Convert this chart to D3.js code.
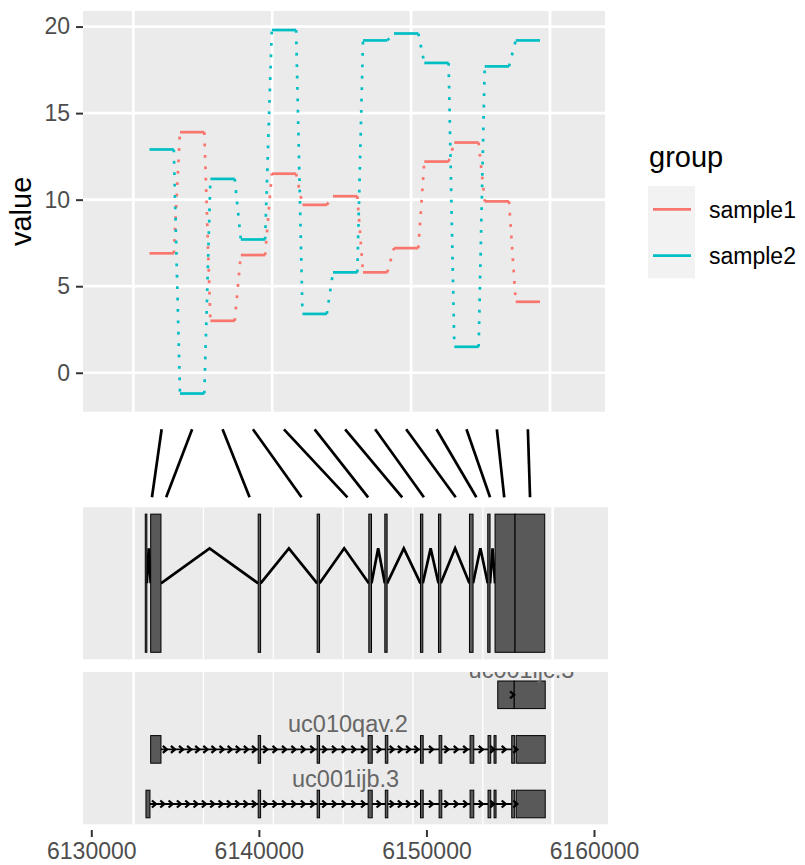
<!DOCTYPE html>
<html>
<head>
<meta charset="utf-8">
<script src="https://cdn.jsdelivr.net/npm/d3@7"></script>
<style>
  body { margin: 0; background: #fff; }
  svg { display: block; font-family: "Liberation Sans", Arial, sans-serif; }
</style>
</head>
<body>
<div id="chart"></div>
<script>
// ---- data ----
var groups = ["sample1", "sample2"];
var groupColors = ["#F8766D", "#00BFC4"];

// step bins in the top track (genomic position)
var binStart = [6135583, 6136681, 6137776, 6138870, 6139986, 6141091, 6142189, 6143269, 6144385, 6145476, 6146556, 6147650, 6148766];
var binEnd   = [6136458, 6137556, 6138651, 6139745, 6140861, 6141966, 6143064, 6144144, 6145260, 6146351, 6147431, 6148525, 6149641];
var sample1 = [6.9, 13.9, 3.0, 6.8, 11.5, 9.7, 10.2, 5.8, 7.2, 12.2, 13.3, 9.9, 4.1];
var sample2 = [12.9, -1.2, 11.2, 7.7, 19.8, 3.4, 5.8, 19.2, 19.6, 17.9, 1.5, 17.7, 19.2];
var yTicks = [0, 5, 10, 15, 20];
var gridMajor = [6135000, 6140000, 6145000, 6150000];
var gridMinor = [6137500, 6142500, 6147500];

// where each bin falls on the gene
var linkPos = [6133620, 6134467, 6139447, 6142548, 6145286, 6146521, 6148554, 6149849, 6151745, 6152980, 6153797, 6154644, 6156183];

// reduced gene model
var geneExonStart = [6133221, 6133543, 6139960, 6143479, 6146562, 6147516, 6149645, 6150719, 6152568, 6153659, 6154095, 6155287];
var geneExonEnd   = [6133316, 6134157, 6140103, 6143622, 6146723, 6147653, 6149783, 6150856, 6152782, 6153796, 6155287, 6157059];

// transcripts
var txNames = ["uc001ijc.3", "uc010qav.2", "uc001ijb.3"];
var txExonStart = [
  [6154256, 6155240],
  [6133543, 6139960, 6143479, 6146521, 6147546, 6149645, 6150755, 6152604, 6153677, 6154035, 6155090, 6155359],
  [6133262, 6139960, 6143479, 6146521, 6147546, 6149645, 6150755, 6152604, 6153677, 6154035, 6155090, 6155359]
];
var txExonEnd = [
  [6155240, 6157089],
  [6134157, 6140103, 6143622, 6146765, 6147695, 6149806, 6150916, 6152825, 6153838, 6154154, 6155269, 6157089],
  [6133501, 6140103, 6143622, 6146765, 6147695, 6149806, 6150916, 6152825, 6153838, 6154154, 6155269, 6157089]
];
var xTicks = [6130000, 6140000, 6150000, 6160000];

// ---- layout ----
var width = 805, height = 865;
var topPanel = {x0: 83, x1: 605, y0: 11, y1: 411.7};
var midPanel = {x0: 83, x1: 608, y0: 507.3, y1: 659.3};
var botPanel = {x0: 83, x1: 608, y0: 672, y1: 824.3};
var linkY = [429.3, 497.3];
var lw = 2.7;

var svg = d3.select("#chart").append("svg")
  .attr("width", width)
  .attr("height", height);

svg.append("rect").attr("width", width).attr("height", height).attr("fill", "#fff");

// scales
var topX = d3.scaleLinear().domain([6133190, 6151980]).range([topPanel.x0, topPanel.x1]);
var gridX = topX.copy().range([midPanel.x0, midPanel.x1]);
var topY = d3.scaleLinear().domain([-2.25, 20.9]).range([topPanel.y1, topPanel.y0]);
var geneX = d3.scaleLinear().domain([6130000, 6160000]).range([91.3, 594]);
var midY = d3.scaleLinear().domain([0, 1]).range([midPanel.y1, midPanel.y0]);
var rowY = d3.scaleLinear().domain([0, 2]).range([694.8, 804]);
var boxHalf = 13.8;

// ===== top panel =====
svg.append("rect")
  .attr("x", topPanel.x0).attr("y", topPanel.y0)
  .attr("width", topPanel.x1 - topPanel.x0).attr("height", topPanel.y1 - topPanel.y0)
  .attr("fill", "#EBEBEB");

var yAxis = d3.axisLeft(topY).tickValues(yTicks).tickSize(7).tickPadding(6);
var gy = svg.append("g")
  .attr("transform", "translate(" + topPanel.x0 + ",0)")
  .call(yAxis);
gy.select(".domain").remove();
gy.selectAll(".tick line").attr("stroke", "#333").attr("stroke-width", 2);
gy.selectAll(".tick text")
  .attr("fill", "#4D4D4D")
  .style("font-size", "23px")
  .style("font-family", "Liberation Sans, Arial, sans-serif");

// grid
svg.append("g").selectAll("line")
  .data(yTicks).enter().append("line")
  .attr("x1", topPanel.x0).attr("x2", topPanel.x1)
  .attr("y1", function(d) { return topY(d); })
  .attr("y2", function(d) { return topY(d); })
  .attr("stroke", "#fff").attr("stroke-width", lw);
svg.append("g").selectAll("line")
  .data(gridMajor).enter().append("line")
  .attr("x1", function(d) { return topX(d); })
  .attr("x2", function(d) { return topX(d); })
  .attr("y1", topPanel.y0).attr("y2", topPanel.y1)
  .attr("stroke", "#fff").attr("stroke-width", lw);

svg.append("text")
  .attr("transform", "translate(31," + ((topPanel.y0 + topPanel.y1) / 2) + ") rotate(-90)")
  .attr("text-anchor", "middle")
  .attr("fill", "#000")
  .style("font-size", "29px")
  .text("value");

// step lines
[sample1, sample2].forEach(function(vals, gi) {
  var g = svg.append("g").attr("stroke", groupColors[gi]).attr("stroke-width", lw).attr("fill", "none");
  // dotted joins
  g.selectAll("line.join")
    .data(d3.range(vals.length - 1)).enter().append("line")
    .attr("class", "join")
    .attr("x1", function(i) { return topX(binEnd[i]); })
    .attr("y1", function(i) { return topY(vals[i]); })
    .attr("x2", function(i) { return topX(binStart[i + 1]); })
    .attr("y2", function(i) { return topY(vals[i + 1]); })
    .attr("stroke-dasharray", "2.8 8.6");
  // solid steps
  g.selectAll("line.step")
    .data(vals).enter().append("line")
    .attr("class", "step")
    .attr("x1", function(d, i) { return topX(binStart[i]); })
    .attr("x2", function(d, i) { return topX(binEnd[i]); })
    .attr("y1", function(d) { return topY(d); })
    .attr("y2", function(d) { return topY(d); });
});

// legend
var leg = svg.append("g");
leg.append("text").attr("x", 649).attr("y", 167)
  .style("font-size", "29px").attr("fill", "#000").text("group");
leg.append("rect").attr("x", 648).attr("y", 186).attr("width", 47).attr("height", 92.3)
  .attr("fill", "#F2F2F2");
leg.selectAll("line.key")
  .data(groups).enter().append("line")
  .attr("class", "key")
  .attr("x1", 653).attr("x2", 691)
  .attr("y1", function(d, i) { return 209.3 + i * 46.4; })
  .attr("y2", function(d, i) { return 209.3 + i * 46.4; })
  .attr("stroke", function(d, i) { return groupColors[i]; })
  .attr("stroke-width", lw);
leg.selectAll("text.lab")
  .data(groups).enter().append("text")
  .attr("class", "lab")
  .attr("x", 709)
  .attr("y", function(d, i) { return 217.6 + i * 46.4; })
  .style("font-size", "23px").attr("fill", "#000")
  .text(function(d) { return d; });

// ===== links =====
svg.append("g").selectAll("line")
  .data(linkPos).enter().append("line")
  .attr("x1", function(d, i) { return topX((binStart[i] + binEnd[i]) / 2); })
  .attr("y1", linkY[0])
  .attr("x2", function(d) { return geneX(d); })
  .attr("y2", linkY[1])
  .attr("stroke", "#000").attr("stroke-width", lw);

// ===== gene panels background & grid =====
function panelBg(p) {
  svg.append("rect")
    .attr("x", p.x0).attr("y", p.y0)
    .attr("width", p.x1 - p.x0).attr("height", p.y1 - p.y0)
    .attr("fill", "#EBEBEB");
  var all = gridMajor.concat(gridMinor).sort(d3.ascending);
  svg.append("g").selectAll("line")
    .data(all).enter().append("line")
    .attr("x1", function(d) { return gridX(d); })
    .attr("x2", function(d) { return gridX(d); })
    .attr("y1", p.y0).attr("y2", p.y1)
    .attr("stroke", "#fff")
    .attr("stroke-width", function(d, i) { return (i === 0 || i === all.length - 1) ? lw : 1.3; });
}
panelBg(midPanel);
panelBg(botPanel);

// ===== reduced gene model =====
var mid = svg.append("g");
mid.selectAll("path.chev")
  .data(d3.range(geneExonStart.length - 1).filter(function(i) { return geneExonStart[i + 1] > geneExonEnd[i]; }))
  .enter().append("path")
  .attr("class", "chev")
  .attr("d", function(i) {
    var a = geneExonEnd[i], b = geneExonStart[i + 1];
    return "M" + geneX(a) + "," + midY(0.5) + "L" + geneX((a + b) / 2) + "," + midY(0.73) + "L" + geneX(b) + "," + midY(0.5);
  })
  .attr("fill", "none").attr("stroke", "#000").attr("stroke-width", lw);
mid.selectAll("rect.exon")
  .data(geneExonStart).enter().append("rect")
  .attr("class", "exon")
  .attr("x", function(d) { return geneX(d); })
  .attr("width", function(d, i) { return geneX(geneExonEnd[i]) - geneX(d); })
  .attr("y", midY(0.955))
  .attr("height", midY(0.046) - midY(0.955))
  .attr("fill", "#595959").attr("stroke", "#000").attr("stroke-width", 1);

// ===== transcripts =====
svg.append("clipPath").attr("id", "botclip").append("rect")
  .attr("x", botPanel.x0).attr("y", botPanel.y0)
  .attr("width", botPanel.x1 - botPanel.x0).attr("height", botPanel.y1 - botPanel.y0);
var bot = svg.append("g").attr("clip-path", "url(#botclip)");

function arrowPath(cx, cy) {
  return "M" + (cx - 2.2) + "," + (cy - 3.5) + "L" + (cx + 1.9) + "," + cy + "L" + (cx - 2.2) + "," + (cy + 3.5);
}

txNames.forEach(function(name, r) {
  var s = txExonStart[r], e = txExonEnd[r], cy = rowY(r);
  var g = bot.append("g");
  g.selectAll("rect").data(s).enter().append("rect")
    .attr("x", function(d) { return geneX(d); })
    .attr("width", function(d, i) { return geneX(e[i]) - geneX(d); })
    .attr("y", cy - boxHalf).attr("height", boxHalf * 2)
    .attr("fill", "#595959").attr("stroke", "#000").attr("stroke-width", 1);
  // introns with arrows
  for (var i = 0; i < s.length - 1; i++) {
    var a = geneX(e[i]), b = geneX(s[i + 1]);
    g.append("line").attr("x1", a).attr("x2", b).attr("y1", cy).attr("y2", cy)
      .attr("stroke", "#000").attr("stroke-width", 1.8);
    var n = Math.max(1, Math.floor((b - a) / 8.1));
    var step = (b - a) / n;
    g.selectAll(null).data(d3.range(n)).enter().append("path")
      .attr("d", function(k) { return arrowPath(a + (k + 0.5) * step - (step === 0 ? 2 : 0), cy); })
      .attr("fill", "none").attr("stroke", "#000").attr("stroke-width", 2.3);
  }
  g.append("text")
    .attr("x", geneX((s[0] + e[e.length - 1]) / 2))
    .attr("y", cy - boxHalf - 3.3)
    .attr("text-anchor", "middle")
    .attr("fill", "#666")
    .style("font-size", "23.5px")
    .text(name);
});

// ===== bottom x axis =====
var xAxis = d3.axisBottom(geneX).tickValues(xTicks).tickSize(7).tickPadding(6).tickFormat(d3.format("d"));
var gx = svg.append("g")
  .attr("transform", "translate(0,830)")
  .call(xAxis);
gx.select(".domain").remove();
gx.selectAll(".tick line").attr("stroke", "#333").attr("stroke-width", 2);
gx.selectAll(".tick text")
  .attr("fill", "#4D4D4D")
  .style("font-size", "23px")
  .style("font-family", "Liberation Sans, Arial, sans-serif");
</script>
</body>
</html>
